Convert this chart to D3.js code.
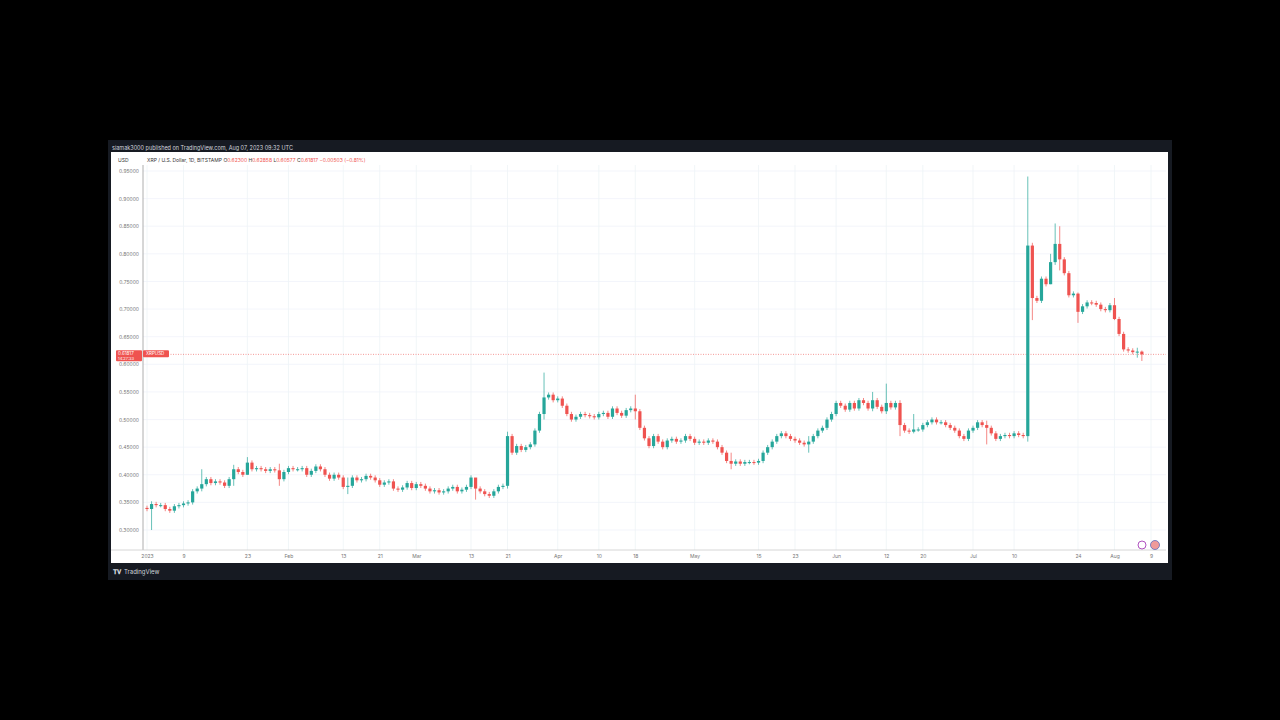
<!DOCTYPE html>
<html><head><meta charset="utf-8">
<script src="https://cdn.jsdelivr.net/npm/d3@7"></script>
<style>body{margin:0;background:#000;}svg{display:block;font-family:Inter,"Noto Sans",sans-serif}</style>
</head><body><svg id="c" width="1280" height="720"></svg>
<script>
const startDate = "2023-01-01";
const firstOpen = 0.340;
const closes = [
0.338,0.347,0.345,0.345,0.338,0.335,0.343,
0.345,0.348,0.350,0.370,0.375,0.383,0.392,
0.385,0.388,0.386,0.380,0.392,0.410,0.405,
0.400,0.422,0.410,0.412,0.410,0.407,0.410,
0.408,0.392,0.405,0.412,0.410,0.410,0.412,
0.400,0.407,0.415,0.410,0.400,0.393,0.400,
0.395,0.378,0.380,0.395,0.390,0.392,0.398,
0.395,0.390,0.382,0.386,0.388,0.375,0.373,
0.377,0.385,0.376,0.383,0.380,0.375,0.370,
0.372,0.368,0.370,0.375,0.378,0.370,0.373,
0.378,0.395,0.375,0.370,0.365,0.362,0.370,
0.378,0.380,0.470,0.440,0.452,0.445,0.450,
0.455,0.480,0.510,0.540,0.545,0.535,
0.538,0.525,0.510,0.500,0.505,0.510,0.508,
0.506,0.504,0.510,0.512,0.505,0.520,0.512,
0.507,0.517,0.520,0.515,0.485,0.466,0.452,
0.470,0.460,0.450,0.462,0.465,0.460,0.462,
0.470,0.465,0.458,0.460,0.458,0.462,0.460,
0.450,0.440,0.425,0.420,0.424,0.420,0.423,
0.423,0.422,0.425,0.440,0.450,0.460,0.470,
0.475,0.470,0.465,0.462,0.458,0.455,0.460,
0.470,0.480,0.485,0.500,0.510,0.530,0.525,
0.518,0.530,0.520,0.535,0.530,0.520,0.535,
0.523,0.515,0.530,0.522,0.530,0.490,0.480,
0.478,0.482,0.482,0.490,0.495,0.500,0.495,
0.495,0.490,0.485,0.480,0.470,0.465,0.480,
0.485,0.495,0.490,0.485,0.475,0.465,0.470,
0.472,0.470,0.475,0.472,0.470,0.815,0.720,
0.715,0.755,0.745,0.785,0.818,0.790,0.765,
0.725,0.728,0.695,0.705,0.712,0.711,0.708,
0.700,0.698,0.707,0.682,0.655,0.627,0.625,
0.622,0.623,0.618];
// notable wicks: day index -> [high, low]
const wickDays = [1,12,19,22,29,44,72,79,87,107,128,145,159,162,165,168,184,193,194,198,199,200,204,212,217,218];
const wickHigh = [0.352,0.410,0.418,0.432,0.420,0.395,0.380,0.478,0.585,0.545,0.440,0.470,0.550,0.565,0.535,0.510,0.498,0.940,0.820,0.800,0.855,0.850,0.730,0.720,0.630,0.625];
const wickLow  = [0.300,0.370,0.380,0.400,0.380,0.365,0.355,0.375,0.500,0.500,0.410,0.440,0.515,0.510,0.470,0.475,0.455,0.460,0.680,0.745,0.780,0.770,0.675,0.680,0.612,0.606];
const yTicks = [0.95,0.90,0.85,0.80,0.75,0.70,0.65,0.60,0.55,0.50,0.45,0.40,0.35,0.30];
const xTickDates = ["2023-01-01","2023-01-09","2023-01-23","2023-02-01","2023-02-13","2023-02-21","2023-03-01","2023-03-13","2023-03-21","2023-04-01","2023-04-10","2023-04-18","2023-05-01","2023-05-15","2023-05-23","2023-06-01","2023-06-12","2023-06-20","2023-07-01","2023-07-10","2023-07-24","2023-08-01","2023-08-09"];
const xTickLabels = ["2023","9","23","Feb","13","21","Mar","13","21","Apr","10","18","May","15","23","Jun","12","20","Jul","10","24","Aug","9"];

const svg = d3.select("#c");
const parse = d3.utcParse("%Y-%m-%d");
const t0 = parse(startDate);
const data = closes.map((c,i)=>{
  const o = i===0?firstOpen:closes[i-1];
  const k = wickDays.indexOf(i);
  const hi = k>=0?wickHigh[k]:Math.max(o,c)+0.004;
  const lo = k>=0?wickLow[k]:Math.min(o,c)-0.004;
  return {d:d3.utcDay.offset(t0,i),o,c,h:hi,l:lo};
});
const x = d3.scaleUtc().domain([parse("2023-01-01"),parse("2023-08-09")]).range([147,1151]);
const y = d3.scaleLinear().domain([0.95,0.30]).range([171,530]);

// frame
svg.append("rect").attr("x",108).attr("y",140).attr("width",1064).attr("height",440).attr("fill","#161a22");
svg.append("rect").attr("x",111).attr("y",152).attr("width",1057).attr("height",411).attr("fill","#fff");
svg.append("text").attr("x",112).attr("y",149.5).attr("fill","#d1d4dc").attr("font-size",5.5).text("siamak3000 published on TradingView.com, Aug 07, 2023 09:32 UTC");
svg.append("text").attr("x",113).attr("y",574).attr("fill","#d1d4dc").attr("font-size",6.5).attr("font-weight","bold").text("𝐓𝐕");
svg.append("text").attr("x",124).attr("y",574).attr("fill","#d1d4dc").attr("font-size",6).text("TradingView");

// grid
const g = svg.append("g");
g.selectAll(".hg").data(yTicks).join("line").attr("x1",143).attr("x2",1166).attr("y1",d=>y(d)).attr("y2",d=>y(d)).attr("stroke","#f0f3fa").attr("stroke-width",0.8);
g.selectAll(".vg").data(xTickDates).join("line").attr("x1",d=>x(parse(d))).attr("x2",d=>x(parse(d))).attr("y1",165).attr("y2",550).attr("stroke","#eef4f6").attr("stroke-width",0.8);

// axes
const ya = svg.append("g").attr("transform","translate(143,0)").call(d3.axisLeft(y).tickValues(yTicks).tickFormat(d3.format(".5f")).tickSize(0).tickPadding(4));
ya.select(".domain").attr("stroke","#999").attr("stroke-width",0.8).attr("d","M0,165V550");
ya.selectAll("text").attr("fill","#777").attr("font-size",5).attr("font-family","Inter,sans-serif");
const xa = svg.append("g").attr("transform","translate(0,550)").call(d3.axisBottom(x).tickValues(xTickDates.map(parse)).tickFormat((d,i)=>xTickLabels[i]).tickSize(0).tickPadding(4));
xa.select(".domain").attr("stroke","#ccc").attr("stroke-width",0.8).attr("d","M111,0H1166");
xa.selectAll("text").attr("fill","#777").attr("font-size",5).attr("font-family","Inter,sans-serif");
svg.append("text").attr("x",118).attr("y",162).attr("fill","#333").attr("font-size",5).text("USD");
const leg = svg.append("text").attr("x",147).attr("y",162).attr("font-size",5);
leg.append("tspan").attr("fill","#333").text("XRP / U.S. Dollar, 1D, BITSTAMP  O");
leg.append("tspan").attr("fill","#ef5350").text("0.62300 ");
leg.append("tspan").attr("fill","#333").text(" H");
leg.append("tspan").attr("fill","#ef5350").text("0.62858 ");
leg.append("tspan").attr("fill","#333").text(" L");
leg.append("tspan").attr("fill","#ef5350").text("0.60577 ");
leg.append("tspan").attr("fill","#333").text(" C");
leg.append("tspan").attr("fill","#ef5350").text("0.61817  −0.00503 (−0.81%)");

// last price line
const last = closes[closes.length-1];
svg.append("line").attr("x1",143).attr("x2",1166).attr("y1",y(last)).attr("y2",y(last)).attr("stroke","#ef5350").attr("stroke-width",0.6).attr("stroke-dasharray","1,1.5");
svg.append("rect").attr("x",116).attr("y",y(last)-4).attr("width",26).attr("height",11).attr("rx",1).attr("fill","#ef5350");
svg.append("text").attr("x",118).attr("y",y(last)+1).attr("fill","#fff").attr("font-size",4.5).text("0.61817");
svg.append("text").attr("x",118).attr("y",y(last)+6).attr("fill","#fff").attr("font-size",4).text("14:27:33");
svg.append("rect").attr("x",143).attr("y",y(last)-4).attr("width",26).attr("height",7).attr("rx",1).attr("fill","#ef5350");
svg.append("text").attr("x",146).attr("y",y(last)+1).attr("fill","#fff").attr("font-size",4.5).text("XRPUSD");

// candles
const cg = svg.append("g");
const col = d=>d.c>=d.o?"#26a69a":"#ef5350";
cg.selectAll(".w").data(data).join("line").attr("x1",d=>x(d.d)).attr("x2",d=>x(d.d)).attr("y1",d=>y(d.h)).attr("y2",d=>y(d.l)).attr("stroke",col).attr("stroke-width",0.7);
cg.selectAll(".b").data(data).join("rect").attr("x",d=>x(d.d)-1.6).attr("width",3.2)
 .attr("y",d=>y(Math.max(d.o,d.c))).attr("height",d=>Math.max(1,Math.abs(y(d.o)-y(d.c)))).attr("fill",col);

// icons
svg.append("circle").attr("cx",1142).attr("cy",545).attr("r",4).attr("fill","#fff").attr("stroke","#9c27b0").attr("stroke-width",0.8);
svg.append("circle").attr("cx",1155).attr("cy",545).attr("r",4.5).attr("fill","#ef9a9a").attr("stroke","#5c6bc0").attr("stroke-width",0.8);
</script></body></html>
